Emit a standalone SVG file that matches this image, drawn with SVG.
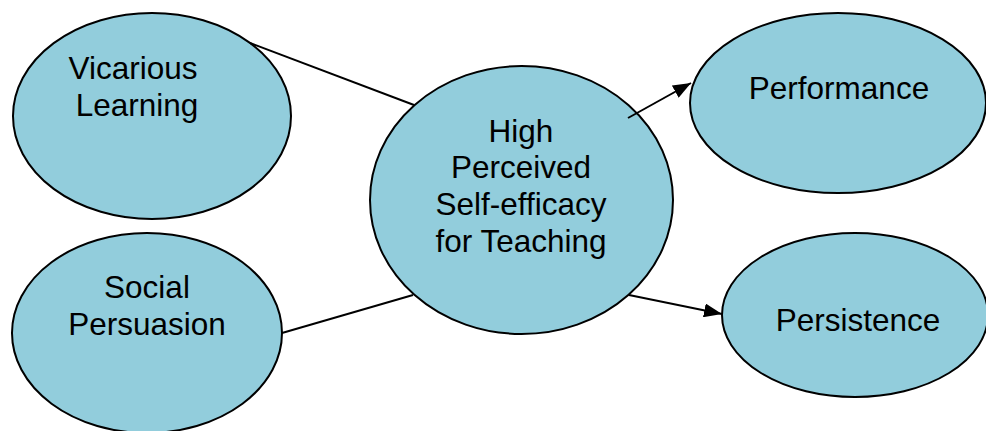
<svg xmlns="http://www.w3.org/2000/svg" width="986" height="431" viewBox="0 0 986 431">
<style>
.n{fill:#92CDDC;stroke:#000;stroke-width:2}
.t{font-family:"Liberation Sans",Arial,sans-serif;font-size:31.5px;fill:#000;text-anchor:middle}
.c{stroke:#000;stroke-width:2;fill:none}
</style>
<defs>
<marker id="ah" viewBox="0 0 10 10" refX="10" refY="5" markerWidth="18" markerHeight="14" markerUnits="userSpaceOnUse" orient="auto" preserveAspectRatio="none">
<path d="M0,0 L10,5 L0,10 z" fill="#000"/>
</marker>
</defs>
<rect width="986" height="431" fill="#fff"/>
<g id="vicarious">
<ellipse class="n" cx="152" cy="116" rx="139" ry="103"/>
<text class="t" x="133" y="79">Vicarious</text>
<text class="t" x="137" y="116">Learning</text>
</g>
<g id="social">
<ellipse class="n" cx="147" cy="333" rx="135" ry="100"/>
<text class="t" x="147" y="298">Social</text>
<text class="t" x="147" y="335">Persuasion</text>
</g>
<g id="center">
<ellipse class="n" cx="521.5" cy="200" rx="151.5" ry="134"/>
<text class="t" x="521" y="142">High</text>
<text class="t" x="521" y="178">Perceived</text>
<text class="t" x="521" y="215">Self-efficacy</text>
<text class="t" x="521" y="252">for Teaching</text>
</g>
<g id="performance">
<ellipse class="n" cx="838" cy="103" rx="148" ry="90"/>
<text class="t" x="839" y="99">Performance</text>
</g>
<g id="persistence">
<ellipse class="n" cx="855" cy="315" rx="133" ry="82"/>
<text class="t" x="858" y="331">Persistence</text>
</g>
<g id="connectors">
<line class="c" x1="250" y1="43" x2="414" y2="105"/>
<line class="c" x1="282" y1="333" x2="413" y2="295"/>
<line class="c" x1="628" y1="118" x2="691" y2="83" marker-end="url(#ah)"/>
<line class="c" x1="629" y1="295" x2="722" y2="314" marker-end="url(#ah)"/>
</g>
</svg>
